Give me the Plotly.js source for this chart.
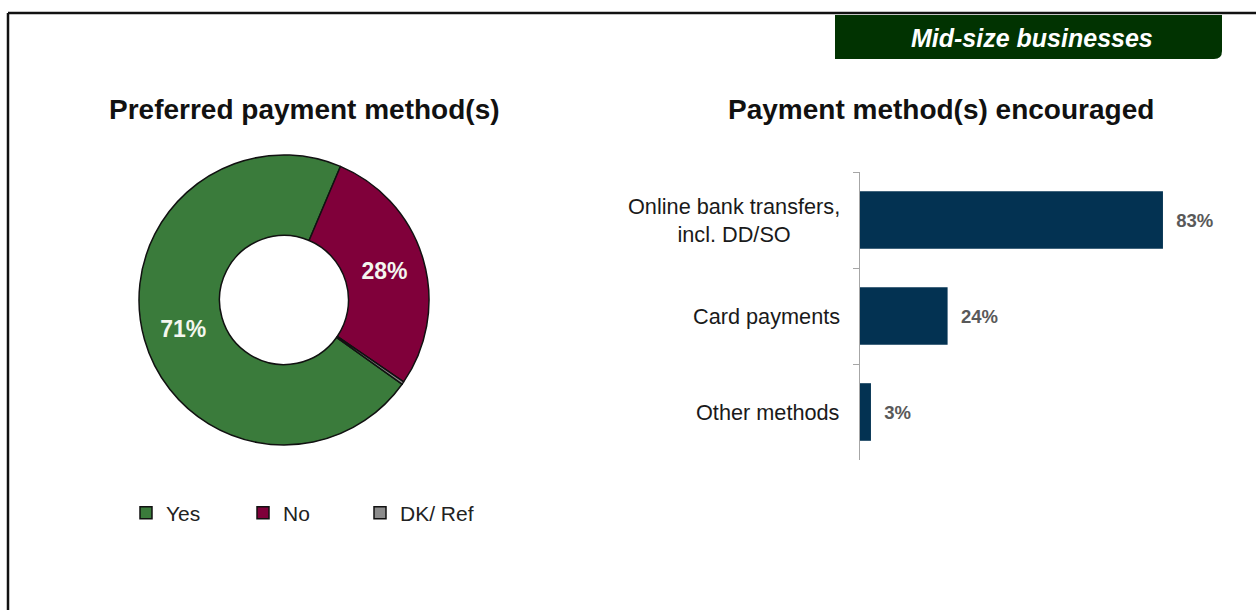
<!DOCTYPE html>
<html>
<head>
<meta charset="utf-8">
<script src="https://cdn.plot.ly/plotly-3.0.1.min.js"></script>
<style>html,body{margin:0;padding:0;background:#fff;}#chart{width:1256px;height:610px;}</style>
</head>
<body>
<div id="chart"></div>
<script>
// ---- data ----
var pieLabels = ['Yes', 'No', 'DK/ Ref'];
var pieValues = [71, 28, 0.3];
var pieText = ['71%', '28%', ''];
var pieColors = ['#3a7b3b', '#80003a', '#8c8c8c'];

var barCategories = ['Online bank transfers,<br>incl. DD/SO', 'Card payments', 'Other methods'];
var barValues = [83, 24, 3];

var leftTitle = 'Preferred payment method(s)';
var rightTitle = 'Payment method(s) encouraged';
var bannerText = 'Mid-size businesses';

// ---- helpers (pixel -> paper) ----
var W = 1256, H = 610;
function px(x) { return x / W; }
function py(y) { return 1 - y / H; }

var FONT = 'Liberation Sans, Arial, Helvetica, sans-serif';

var pieTrace = {
  type: 'pie',
  labels: pieLabels,
  values: pieValues,
  text: pieText,
  textinfo: 'text',
  textposition: ['inside', 'inside', 'none'],
  insidetextorientation: 'horizontal',
  sort: false,
  direction: 'clockwise',
  rotation: 125.5,
  hole: 0.445,
  marker: { colors: pieColors, line: { color: '#111111', width: 1.5 } },
  textfont: { family: FONT, size: 23, color: '#f4f7f0', weight: 'bold' },
  domain: { x: [px(284 - 145), px(284 + 145)], y: [py(445), py(155)] },
  showlegend: true,
  hoverinfo: 'label+percent'
};

var barTrace = {
  type: 'bar',
  orientation: 'h',
  x: barValues,
  y: barCategories,
  xaxis: 'x2',
  yaxis: 'y2',
  marker: { color: '#033252' },
  text: barValues.map(function (v) { return '\u00a0\u00a0' + v + '%'; }),
  textposition: 'outside',
  cliponaxis: false,
  textfont: { family: FONT, size: 18.5, color: '#595959', weight: 'bold' },
  showlegend: false,
  hoverinfo: 'x+y'
};

var annotations = [
  { text: leftTitle, xref: 'paper', yref: 'paper', x: px(304), y: py(110), xanchor: 'center', yanchor: 'middle',
    showarrow: false, font: { family: FONT, size: 28, color: '#111111', weight: 'bold' } },
  { text: rightTitle, xref: 'paper', yref: 'paper', x: px(941), y: py(110), xanchor: 'center', yanchor: 'middle',
    showarrow: false, font: { family: FONT, size: 28, color: '#111111', weight: 'bold' } },
  { text: '<i>' + bannerText + '</i>', xref: 'paper', yref: 'paper', x: px(1032), y: py(38), xanchor: 'center', yanchor: 'middle',
    showarrow: false, font: { family: FONT, size: 25, color: '#ffffff', weight: 'bold' } }
];
barCategories.forEach(function (c) {
  annotations.push({ text: c, xref: 'x2', yref: 'y2', x: 0, y: c, xanchor: 'right', yanchor: 'middle',
    xshift: -18, align: 'center', showarrow: false, font: { family: FONT, size: 21.7, color: '#1a1a1a' } });
});

var shapes = [
  { type: 'path', xref: 'paper', yref: 'paper', fillcolor: '#013301', line: { width: 0 },
    path: 'M ' + px(835) + ',' + py(15) + ' L ' + px(1222) + ',' + py(15) + ' L ' + px(1222) + ',' + py(51) +
          ' Q ' + px(1222) + ',' + py(59) + ' ' + px(1214) + ',' + py(59) + ' L ' + px(835) + ',' + py(59) + ' Z' },
  { type: 'line', xref: 'paper', yref: 'paper', x0: px(8), x1: px(1256), y0: py(13), y1: py(13), line: { color: '#111111', width: 2.5 } },
  { type: 'line', xref: 'paper', yref: 'paper', x0: px(8), x1: px(8), y0: py(13), y1: py(610), line: { color: '#111111', width: 2.5 } }
];

var layout = {
  width: W, height: H,
  margin: { l: 0, r: 0, t: 0, b: 0 },
  paper_bgcolor: '#ffffff', plot_bgcolor: 'rgba(0,0,0,0)',
  font: { family: FONT, color: '#222222' },
  xaxis2: { domain: [px(860), px(1225)], range: [0, 100], visible: false, anchor: 'y2', fixedrange: true },
  yaxis2: { domain: [py(460), py(172)], anchor: 'x2', type: 'category', categoryorder: 'array', categoryarray: barCategories,
    autorange: 'reversed', showticklabels: false, showline: true, linecolor: '#a6a6a6', linewidth: 1,
    ticks: 'outside', tickson: 'boundaries', ticklen: 6, tickcolor: '#a6a6a6', showgrid: false, zeroline: false },
  bargap: 0.4,
  legend: { orientation: 'h', x: px(126), xanchor: 'left', y: py(513), yanchor: 'middle',
    font: { family: FONT, size: 21, color: '#222222' }, entrywidth: 72, traceorder: 'normal', bgcolor: 'rgba(0,0,0,0)' },
  annotations: annotations,
  shapes: shapes
};

Plotly.newPlot('chart', [pieTrace, barTrace], layout, { displayModeBar: false, staticPlot: true });
</script>
</body>
</html>
